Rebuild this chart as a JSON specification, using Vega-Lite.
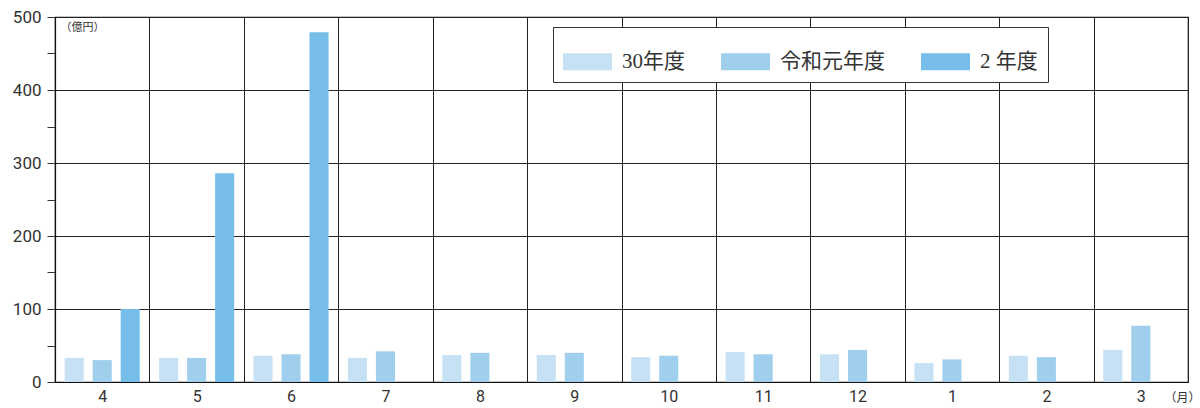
{
  "$schema": "https://vega.github.io/schema/vega-lite/v6.json",
  "width": 1133,
  "height": 365,
  "autosize": {"type": "none"},
  "padding": {"left": 55, "top": 17, "right": 12, "bottom": 26},
  "background": "#ffffff",
  "config": {
    "view": {"stroke": "#111111", "strokeWidth": 1.2},
    "font": "Noto Sans CJK JP"
  },
  "data": {
    "values": [
      {"month": "4", "fy": "30年度", "value": 33},
      {"month": "4", "fy": "令和元年度", "value": 30},
      {"month": "4", "fy": "2 年度", "value": 100},
      {"month": "5", "fy": "30年度", "value": 33},
      {"month": "5", "fy": "令和元年度", "value": 33},
      {"month": "5", "fy": "2 年度", "value": 286},
      {"month": "6", "fy": "30年度", "value": 36},
      {"month": "6", "fy": "令和元年度", "value": 38},
      {"month": "6", "fy": "2 年度", "value": 479},
      {"month": "7", "fy": "30年度", "value": 33},
      {"month": "7", "fy": "令和元年度", "value": 42},
      {"month": "8", "fy": "30年度", "value": 37},
      {"month": "8", "fy": "令和元年度", "value": 40},
      {"month": "9", "fy": "30年度", "value": 37},
      {"month": "9", "fy": "令和元年度", "value": 40},
      {"month": "10", "fy": "30年度", "value": 34},
      {"month": "10", "fy": "令和元年度", "value": 36},
      {"month": "11", "fy": "30年度", "value": 41},
      {"month": "11", "fy": "令和元年度", "value": 38},
      {"month": "12", "fy": "30年度", "value": 38},
      {"month": "12", "fy": "令和元年度", "value": 44},
      {"month": "1", "fy": "30年度", "value": 26},
      {"month": "1", "fy": "令和元年度", "value": 31},
      {"month": "2", "fy": "30年度", "value": 36},
      {"month": "2", "fy": "令和元年度", "value": 34},
      {"month": "3", "fy": "30年度", "value": 44},
      {"month": "3", "fy": "令和元年度", "value": 77}
    ]
  },
  "mark": {"type": "bar"},
  "encoding": {
    "x": {
      "field": "month",
      "type": "nominal",
      "sort": ["4", "5", "6", "7", "8", "9", "10", "11", "12", "1", "2", "3"],
      "scale": {"paddingInner": 0, "paddingOuter": 0},
      "axis": {
        "title": "（月）",
        "titleX": 1109,
        "titleY": 15,
        "titleAlign": "left",
        "titleBaseline": "middle",
        "titleFontSize": 12,
        "titleFontWeight": "normal",
        "titleColor": "#333333",
        "titleFont": "Noto Sans CJK JP",
        "labelAngle": 0,
        "labelFontSize": 16,
        "labelColor": "#333333",
        "labelFont": "Roboto",
        "labelPadding": 6,
        "ticks": false,
        "tickBand": "extent",
        "grid": true,
        "gridColor": "#222222",
        "gridWidth": 1,
        "gridOpacity": 1,
        "domainColor": "#111111",
        "domainWidth": 1.2
      }
    },
    "xOffset": {
      "field": "fy",
      "type": "nominal",
      "sort": ["30年度", "令和元年度", "2 年度"],
      "scale": {"domain": ["30年度", "令和元年度", "2 年度"], "paddingInner": 0.32, "paddingOuter": 0.345}
    },
    "y": {
      "field": "value",
      "type": "quantitative",
      "scale": {"domain": [0, 500], "nice": false},
      "axis": {
        "values": [0, 50, 100, 150, 200, 250, 300, 350, 400, 450, 500],
        "labelExpr": "datum.value % 100 === 0 ? datum.label : ''",
        "gridOpacity": {"condition": {"test": "datum.value % 100 === 0", "value": 1}, "value": 0},
        "gridColor": "#222222",
        "gridWidth": 1,
        "tickColor": "#333333",
        "tickSize": 8,
        "labelFontSize": 17,
        "labelColor": "#333333",
        "labelFont": "Roboto",
        "labelPadding": 6,
        "domainColor": "#111111",
        "domainWidth": 1.2,
        "title": "（億円）",
        "titleAngle": 0,
        "titleX": 5,
        "titleY": 10,
        "titleAlign": "left",
        "titleBaseline": "middle",
        "titleFontSize": 11,
        "titleFontWeight": "normal",
        "titleColor": "#333333",
        "titleFont": "Noto Sans CJK JP"
      }
    },
    "color": {
      "field": "fy",
      "type": "nominal",
      "scale": {"domain": ["30年度", "令和元年度", "2 年度"], "range": ["#c7e1f4", "#a0cfee", "#76bee9"]},
      "legend": {
        "title": null,
        "orient": "none",
        "legendX": 498,
        "legendY": 10,
        "direction": "horizontal",
        "symbolType": "M-1,-0.35H1V0.35H-1Z",
        "symbolSize": 2401,
        "symbolStrokeWidth": 0,
        "labelFont": "Liberation Serif, Noto Sans CJK JP",
        "labelFontSize": 21,
        "labelColor": "#333333",
        "labelOffset": 10,
        "columnPadding": 36,
        "padding": 10,
        "fillColor": "#ffffff",
        "strokeColor": "#333333",
        "labelLimit": 300
      }
    }
  }
}
